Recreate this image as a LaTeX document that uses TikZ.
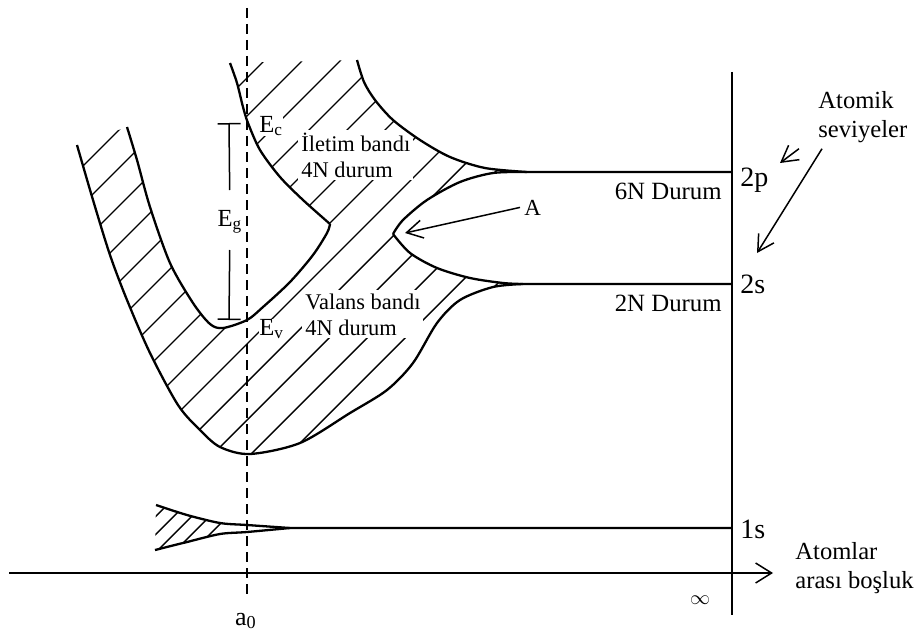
\documentclass[tikz,border=0pt]{standalone}
\usepackage{fontspec}
\setmainfont{Liberation Serif}
\usepackage{tikz}
\usetikzlibrary{arrows.meta,positioning}

\begin{document}
\begin{tikzpicture}[x=0.5pt,y=-0.5pt,
    band/.style={line width=1.15pt,line join=round},
    thin/.style={line width=0.75pt},
    hatch/.style={line width=0.7pt},
    pointer/.style={line width=0.75pt,-{Straight Barb[length=8pt,width=9pt]}},
    lbl/.style={font=\fontsize{12.3}{14.5}\selectfont,inner sep=0pt},
    bandlbl/.style={font=\fontsize{11.2}{13}\selectfont,align=left,inner sep=1.5pt,fill=white},
    lvl/.style={font=\fontsize{14}{16}\selectfont,inner sep=0pt}]
  \useasboundingbox (0,0) rectangle (919,631);

  % hatching of the bands
  \begin{scope}
    \clip plot[smooth] coordinates {(77,145) (93,200) (110,255) (127,300) (150,353) (178,405) (200,430) (220,447) (250,454) (300,443) (350,413) (387,390) (413,363) (437,323) (460,300) (493,287) (523,284)}
      -- plot[smooth] coordinates {(523,284) (503,283) (470,278) (437,268) (410,253) (393,234)}
      -- plot[smooth] coordinates {(393,234) (403,220) (427,200) (460,182) (493,173) (527,172)}
      -- plot[smooth] coordinates {(527,172) (485,168) (450,157) (420,140) (393,120) (375,100) (364,82) (357,60)}
      -- plot[smooth] coordinates {(230,63) (237,83) (243,107) (248,123) (260,150) (280,177) (303,200) (330,224)}
      -- plot[smooth] coordinates {(330,224) (327,233) (313,255) (290,282) (263,307) (247,320) (223,328) (210,324) (193,303) (170,263) (150,207) (137,160) (127,127)}
      -- cycle;
    \foreach \c in {211,249,...,819}
      \draw[hatch] (\c,0) -- ({\c-700},700);
  \end{scope}
  \begin{scope}
    \clip plot[smooth] coordinates {(156,505) (187,515) (220,523) (247,525) (290,528)}
      -- plot[smooth] coordinates {(290,528) (247,532) (220,534) (187,542) (155,550)} -- cycle;
    \foreach \c in {672,690,...,744}
      \draw[hatch] (\c,0) -- ({\c-700},700);
  \end{scope}

  % labels inside the bands
  \node[bandlbl,anchor=base west] (cband) at (298,177) {İletim bandı\\4N durum};
  \node[bandlbl,anchor=base west] (vband) at (302,335) {Valans bandı\\4N durum};
  \node[lbl,fill=white,anchor=base west] (Ec) at (259,132) {E\textsubscript{c}};
  \node[lbl,fill=white,anchor=base west] (Ev) at (259,335) {E\textsubscript{v}};
  \node[lbl] (Eg) at (230,222) {E\textsubscript{g}};

  % band edges
  \draw[band] plot[smooth] coordinates {(77,145) (93,200) (110,255) (127,300) (150,353) (178,405) (200,430) (220,447) (250,454) (300,443) (350,413) (387,390) (413,363) (437,323) (460,300) (493,287) (523,284)};
  \draw[band] plot[smooth] coordinates {(230,63) (237,83) (243,107) (248,123) (260,150) (280,177) (303,200) (330,224)};
  \draw[band] plot[smooth] coordinates {(127,127) (137,160) (150,207) (170,263) (193,303) (210,324) (223,328) (247,320) (263,307) (290,282) (313,255) (327,233) (330,224)};
  \draw[band] plot[smooth] coordinates {(357,60) (364,82) (375,100) (393,120) (420,140) (450,157) (485,168) (527,172)} -- (732,172);
  \draw[band] plot[smooth] coordinates {(393,234) (403,220) (427,200) (460,182) (493,173) (527,172)};
  \draw[band] plot[smooth] coordinates {(393,234) (410,253) (437,268) (470,278) (503,283) (523,284)} -- (732,284);
  \draw[band] plot[smooth] coordinates {(156,505) (187,515) (220,523) (247,525) (290,528)} -- (732,528);
  \draw[band] plot[smooth] coordinates {(155,550) (187,542) (220,534) (247,532) (290,528)};

  % lattice constant and axes
  \coordinate (aTop) at (247,8);
  \coordinate (aBot) at (247,597);
  \draw[thin,dash pattern=on 5pt off 3pt] (aTop) -- (aBot);
  \node[lbl,font=\fontsize{13}{15}\selectfont,anchor=base] (a0) at (246,625) {a\textsubscript{0}};
  \coordinate (axL) at (9,573);
  \coordinate (axR) at (773,573);
  \draw[thin,-{Straight Barb[length=8pt,width=10pt]}] (axL) -- (axR);
  \coordinate (infTop) at (732,72);
  \coordinate (infBot) at (732,615);
  \draw[thin] (infTop) -- (infBot);
  \node[font=\fontsize{10}{12}\selectfont,inner sep=0pt] (inf) at (700,600) {$\infty$};
  \node[lbl,align=left,anchor=base west] (dist) at (795,588) {Atomlar\\arası boşluk};

  % energy gap
  \coordinate (EgTop) at (229,123);
  \coordinate (EgBot) at (229,320);
  \draw[thin,{Bar[width=11.5pt]}-,shorten >=16pt] (EgTop) -- (Eg.center);
  \draw[thin,{Bar[width=11.5pt]}-,shorten >=14pt] (EgBot) -- (Eg.center);

  % atomic levels
  \node[lvl,anchor=base west] (p2) at (740,186) {2p};
  \node[lvl,anchor=base west] (s2) at (740,293) {2s};
  \node[lvl,anchor=base west] (s1) at (740,538) {1s};
  \node[lbl,font=\fontsize{12.4}{14}\selectfont,anchor=base east] (n6) at (722,199) {6N Durum};
  \node[lbl,font=\fontsize{12.4}{14}\selectfont,anchor=base east] (n2) at (722,311) {2N Durum};
  \node[lbl,align=left,anchor=base west] (atomik) at (818,137) {Atomik\\seviyeler};
  \coordinate (p2tip) at (780,163);
  \coordinate (s2tip) at (757,253);
  \draw[pointer] ([xshift=-9.5pt,yshift=-3pt]atomik.south west) -- (p2tip);
  \draw[pointer] ([xshift=2pt,yshift=-3pt]atomik.south west) -- (s2tip);

  % crossing point
  \node[lbl,font=\fontsize{11.5}{13}\selectfont,inner sep=2pt,anchor=base west] (A) at (520,215) {A};
  \coordinate (Atip) at (405,233);
  \draw[pointer] (A.west) -- (Atip);
\end{tikzpicture}
\end{document}
